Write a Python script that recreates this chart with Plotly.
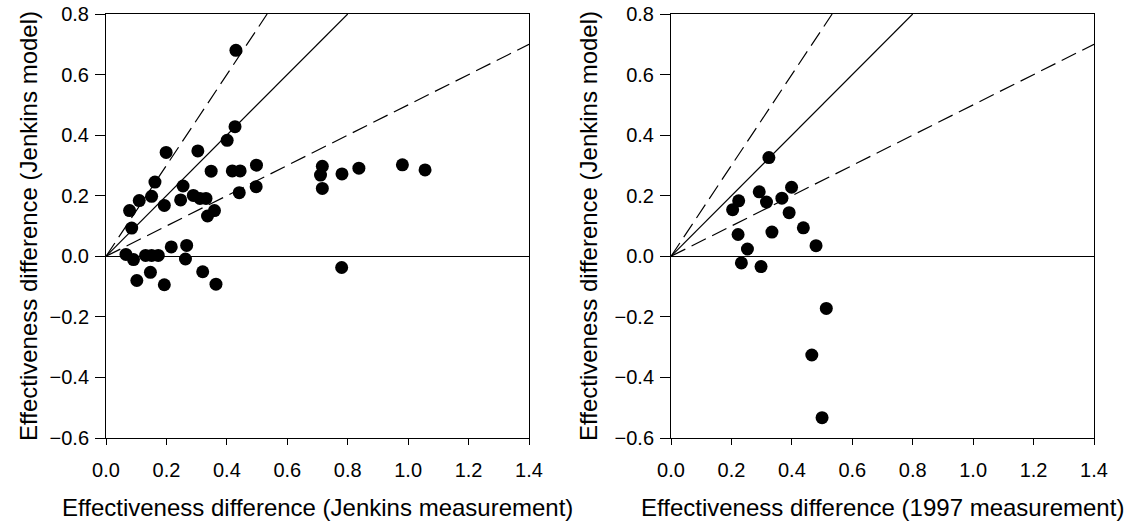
import plotly.graph_objects as go

# Left panel: Jenkins measurement vs Jenkins model
left_x = [0.430, 0.427, 0.401, 0.199, 0.304, 0.498, 0.348, 0.418, 0.444, 0.162,
          0.255, 0.151, 0.110, 0.247, 0.289, 0.311, 0.331, 0.441, 0.497, 0.078,
          0.193, 0.359, 0.336, 0.085, 0.066, 0.091, 0.131, 0.151, 0.173, 0.216,
          0.267, 0.263, 0.102, 0.147, 0.193, 0.320, 0.364,
          0.716, 0.710, 0.716, 0.781, 0.837, 0.981, 1.056, 0.780]
left_y = [0.680, 0.428, 0.383, 0.343, 0.348, 0.301, 0.281, 0.282, 0.282, 0.245,
          0.232, 0.198, 0.184, 0.186, 0.201, 0.191, 0.191, 0.210, 0.230, 0.151,
          0.168, 0.151, 0.133, 0.093, 0.006, -0.011, 0.003, 0.003, 0.003, 0.031,
          0.036, -0.009, -0.080, -0.053, -0.094, -0.051, -0.092,
          0.297, 0.268, 0.224, 0.272, 0.291, 0.302, 0.285, -0.037]

# Right panel: 1997 measurement vs Jenkins model
right_x = [0.324, 0.292, 0.224, 0.204, 0.316, 0.367, 0.399, 0.391, 0.438, 0.222,
           0.334, 0.253, 0.480, 0.233, 0.298, 0.514, 0.466, 0.500]
right_y = [0.326, 0.213, 0.183, 0.154, 0.179, 0.192, 0.228, 0.144, 0.094, 0.072,
           0.080, 0.024, 0.035, -0.022, -0.034, -0.172, -0.326, -0.533]

# Reference lines (1:1, +50%, -50%)
line_equal_x = [0.0, 0.8]
line_equal_y = [0.0, 0.8]
line_high_x = [0.0, 0.8 / 1.5]
line_high_y = [0.0, 0.8]
line_low_x = [0.0, 1.4]
line_low_y = [0.0, 0.7]

x_ticks = [0.0, 0.2, 0.4, 0.6, 0.8, 1.0, 1.2, 1.4]
y_ticks = [-0.6, -0.4, -0.2, 0.0, 0.2, 0.4, 0.6, 0.8]

x_titles = ["Effectiveness difference (Jenkins measurement)",
            "Effectiveness difference (1997 measurement)"]
y_title = "Effectiveness difference (Jenkins model)"

W, H = 1133, 524
fig = go.Figure()

panels = [(left_x, left_y, "x", "y"), (right_x, right_y, "x2", "y2")]
for px, py, xa, ya in panels:
    fig.add_trace(go.Scatter(x=line_equal_x, y=line_equal_y, mode="lines",
                             line=dict(color="black", width=1.2),
                             xaxis=xa, yaxis=ya, showlegend=False, hoverinfo="skip"))
    fig.add_trace(go.Scatter(x=line_high_x, y=line_high_y, mode="lines",
                             line=dict(color="black", width=1.2, dash="16px,7px"),
                             xaxis=xa, yaxis=ya, showlegend=False, hoverinfo="skip"))
    fig.add_trace(go.Scatter(x=line_low_x, y=line_low_y, mode="lines",
                             line=dict(color="black", width=1.2, dash="16px,7px"),
                             xaxis=xa, yaxis=ya, showlegend=False, hoverinfo="skip"))
    fig.add_trace(go.Scatter(x=px, y=py, mode="markers",
                             marker=dict(color="black", size=13, line=dict(width=0)),
                             xaxis=xa, yaxis=ya, showlegend=False))

font_tick = dict(family="Liberation Sans, Arial, sans-serif", size=20, color="black")
font_title = dict(family="Liberation Sans, Arial, sans-serif", size=24, color="black")

common_x = dict(range=[0, 1.4], tickvals=x_ticks, tickformat=".1f", showgrid=False,
                zeroline=False, showline=True, linecolor="black", linewidth=1,
                mirror=True, ticks="outside", ticklen=6, tickcolor="black",
                tickwidth=1, tickfont=font_tick, automargin=False,
                ticklabelstandoff=8)
common_y = dict(range=[-0.6, 0.8], tickvals=y_ticks, tickformat=".1f", showgrid=False,
                zeroline=True, zerolinecolor="black", zerolinewidth=1.2,
                showline=True, linecolor="black", linewidth=1,
                mirror=True, ticks="outside", ticklen=10, tickcolor="black",
                tickwidth=1, tickfont=font_tick, automargin=False,
                ticklabelstandoff=2)

dom_l = [106 / W, 529 / W]
dom_r = [671 / W, 1094 / W]

fig.update_layout(
    template="none",
    width=W, height=H,
    margin=dict(l=0, r=0, t=14, b=86),
    paper_bgcolor="white", plot_bgcolor="white",
    xaxis=dict(domain=dom_l, anchor="y", **common_x),
    yaxis=dict(domain=[0, 1], anchor="x", **common_y),
    xaxis2=dict(domain=dom_r, anchor="y2", **common_x),
    yaxis2=dict(domain=[0, 1], anchor="x2", **common_y),
)

plot_h = H - 14 - 86
title_y = (438 - 508) / plot_h
for dom, t in zip([dom_l, dom_r], x_titles):
    fig.add_annotation(text=t, xref="paper", yref="paper", x=(dom[0] + dom[1]) / 2,
                       y=title_y, xanchor="center", yanchor="middle",
                       showarrow=False, font=font_title)
for xp in [28 / W, 588 / W]:
    fig.add_annotation(text=y_title, xref="paper", yref="paper", x=xp, y=0.5,
                       xanchor="center", yanchor="middle", textangle=-90,
                       showarrow=False, font=font_title)

fig.write_html("out.html")
